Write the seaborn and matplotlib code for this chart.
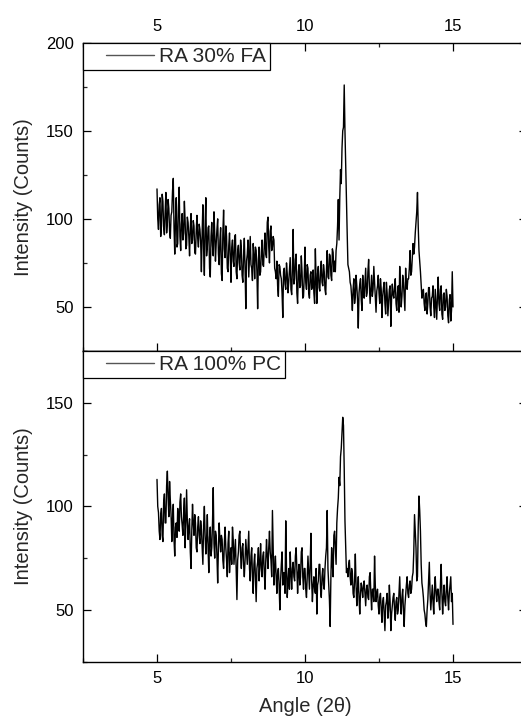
import numpy as np
import pandas as pd
import matplotlib
matplotlib.use("Agg")
import matplotlib.pyplot as plt
import seaborn as sns
from matplotlib.ticker import MultipleLocator
from matplotlib.legend_handler import HandlerLine2D

# ---------------- data (step 0.025 deg from 5 deg) ----------------
series_names = ["RA 30% FA", "RA 100% PC"]

fa30 = [
    117, 100, 94, 108, 112, 90, 96, 114, 110, 95, 91, 104, 115, 92, 98, 111, 106, 93, 89, 102,      # 5.00
    104, 116, 123, 95, 80, 99, 112, 84, 86, 107, 118, 90, 82, 97, 103, 88, 92, 110, 99, 83,         # 5.50
    85, 101, 98, 90, 79, 95, 103, 86, 88, 99, 96, 81, 80, 93, 102, 89, 84, 97, 94, 87,              # 6.00
    70, 92, 108, 83, 68, 96, 112, 79, 84, 95, 96, 72, 67, 90, 98, 85, 79, 104, 92, 76,              # 6.50
    86, 94, 100, 80, 74, 88, 95, 69, 65, 92, 105, 83, 78, 96, 90, 72, 70, 85, 92, 79,               # 7.00
    64, 84, 88, 76, 73, 90, 91, 70, 66, 82, 85, 75, 71, 88, 83, 68, 64, 79, 89, 72,                 # 7.50
    49, 76, 80, 88, 67, 78, 90, 74, 72, 65, 86, 79, 66, 84, 82, 70, 49, 77, 84, 68,                 # 8.00
    70, 81, 88, 74, 73, 85, 92, 80, 78, 98, 101, 84, 75, 93, 96, 82, 84, 90, 88, 72,                # 8.50
    70, 66, 76, 62, 56, 74, 73, 68, 66, 58, 44, 70, 72, 63, 60, 75, 69, 58, 64, 71,                 # 9.00
    78, 60, 57, 72, 94, 63, 66, 77, 80, 58, 52, 70, 74, 61, 62, 79, 70, 55, 56, 68,                 # 9.50
    84, 64, 60, 74, 72, 58, 55, 68, 70, 60, 62, 71, 58, 52, 83, 66, 52, 69, 73, 61,                 # 10.00
    59, 70, 76, 64, 62, 74, 70, 60, 57, 71, 82, 67, 66, 80, 79, 68, 65, 83, 81, 70,                 # 10.50
    76, 70, 82, 86, 96, 111, 88, 112, 128, 120, 140, 150, 152, 176, 150, 130, 113, 92, 74, 72,      # 11.00
    70, 64, 62, 56, 48, 60, 66, 52, 56, 68, 62, 54, 38, 58, 63, 66, 54, 48, 68, 60,                 # 11.50
    55, 64, 72, 56, 58, 70, 77, 62, 52, 60, 68, 56, 60, 73, 64, 55, 47, 59, 62, 68,                 # 12.00
    58, 52, 66, 60, 44, 56, 61, 64, 52, 46, 64, 58, 45, 53, 60, 62, 39, 55, 63, 57,                 # 12.50
    55, 61, 66, 52, 48, 58, 62, 47, 73, 60, 50, 56, 68, 64, 56, 48, 72, 62, 60, 66,                 # 13.00
    66, 72, 82, 68, 70, 78, 86, 80, 84, 92, 98, 104, 115, 96, 82, 76, 70, 62, 55, 58,               # 13.50
    60, 52, 48, 57, 58, 46, 52, 61, 61, 50, 45, 55, 56, 62, 50, 44, 60, 52, 43, 56,                 # 14.00
    67, 52, 48, 60, 62, 46, 43, 57, 58, 48, 50, 60, 56, 45, 41, 54, 57, 42, 48, 70,                 # 14.50
    50,                                                                                             # 15.00
]

pc100 = [
    113, 100, 97, 88, 84, 96, 99, 86, 83, 102, 106, 92, 92, 110, 117, 104, 95, 112, 103, 96,        # 5.00
    83, 94, 101, 84, 76, 90, 92, 85, 99, 94, 88, 102, 106, 95, 91, 86, 97, 104, 80, 92,             # 5.50
    108, 93, 84, 90, 94, 78, 70, 88, 101, 92, 86, 96, 92, 80, 78, 90, 95, 86, 82, 93,               # 6.00
    89, 80, 72, 91, 100, 86, 77, 84, 96, 80, 68, 85, 90, 76, 80, 92, 109, 82, 75, 88,               # 6.50
    86, 76, 63, 80, 92, 84, 78, 86, 84, 74, 70, 82, 90, 80, 74, 66, 82, 88, 68, 76,                 # 7.00
    80, 72, 90, 84, 72, 78, 84, 70, 55, 74, 78, 86, 88, 76, 70, 80, 82, 72, 66, 74,                 # 7.50
    84, 78, 72, 80, 88, 70, 64, 76, 80, 66, 58, 72, 77, 66, 54, 70, 73, 80, 64, 72,                 # 8.00
    82, 70, 66, 76, 78, 68, 60, 74, 84, 76, 70, 80, 88, 78, 74, 66, 98, 80, 62, 70,                 # 8.50
    76, 66, 58, 68, 70, 62, 50, 64, 72, 78, 62, 68, 68, 58, 93, 70, 56, 64, 70, 60,                 # 9.00
    78, 68, 60, 70, 73, 66, 64, 76, 80, 70, 58, 68, 72, 62, 66, 78, 80, 66, 60, 70,                 # 9.50
    70, 60, 56, 66, 76, 68, 60, 72, 87, 64, 54, 62, 66, 60, 58, 70, 48, 62, 64, 72,                 # 10.00
    72, 60, 56, 66, 70, 62, 60, 70, 76, 80, 98, 70, 62, 55, 42, 66, 80, 72, 66, 86,                 # 10.50
    88, 80, 72, 92, 99, 104, 114, 110, 124, 128, 136, 143, 139, 118, 93, 80, 68, 70, 66, 72,        # 11.00
    74, 66, 62, 70, 68, 58, 56, 64, 77, 62, 52, 60, 66, 56, 48, 58, 63, 60, 56, 62,                 # 11.50
    64, 58, 52, 60, 62, 56, 55, 66, 68, 58, 50, 60, 60, 54, 76, 62, 54, 58, 60, 52,                 # 12.00
    48, 56, 58, 50, 44, 54, 56, 48, 40, 52, 54, 58, 46, 50, 62, 54, 40, 48, 52, 56,                 # 12.50
    58, 50, 45, 54, 56, 48, 50, 58, 66, 54, 48, 56, 60, 50, 42, 52, 57, 62, 66, 58,                 # 13.00
    56, 62, 64, 58, 60, 66, 68, 78, 96, 88, 80, 64, 66, 90, 105, 98, 88, 72, 63, 60,                # 13.50
    56, 50, 48, 44, 42, 50, 55, 64, 73, 58, 50, 56, 62, 54, 48, 60, 66, 58, 54, 60,                 # 14.00
    60, 54, 50, 62, 72, 58, 48, 56, 62, 54, 52, 60, 66, 56, 50, 58, 62, 66, 54, 58,                 # 14.50
    43,                                                                                             # 15.00
]

step = 0.025
angle_fa = np.round(np.arange(len(fa30)) * step + 5.0, 3)    # 2-theta scan grid
angle_pc = np.round(np.arange(len(pc100)) * step + 5.0, 3)

x_ticks = [5, 10, 15]
y_ticks_top = [50, 100, 150, 200]
y_ticks_bottom = [50, 100, 150]

x_label = "Angle (2\u03b8)"
y_label = "Intensity (Counts)"

# ---------------- style ----------------
sns.set_style("ticks")
plt.rcParams["font.family"] = ["Liberation Sans", "DejaVu Sans"]
plt.rcParams["axes.linewidth"] = 1.0

fig = plt.figure(figsize=(5.21, 7.19), dpi=100)
W, H = 521.0, 719.0
left_px, right_px = 83.0, 527.0
ax1 = fig.add_axes([left_px / W, 1 - 351.0 / H, (right_px - left_px) / W, (351.0 - 42.7) / H])
ax2 = fig.add_axes([left_px / W, 1 - 661.7 / H, (right_px - left_px) / W, (661.7 - 351.0) / H])

df1 = pd.DataFrame({"angle": angle_fa, "intensity": fa30})
df2 = pd.DataFrame({"angle": angle_pc, "intensity": pc100})

sns.lineplot(data=df1, x="angle", y="intensity", ax=ax1, color="black",
             linewidth=1.0, label=series_names[0])
sns.lineplot(data=df2, x="angle", y="intensity", ax=ax2, color="black",
             linewidth=1.0, label=series_names[1])

for ax, ylim, yt in [(ax1, (25, 200), y_ticks_top), (ax2, (25, 175), y_ticks_bottom)]:
    ax.set_xlim(2.5, 17.5)
    ax.set_ylim(*ylim)
    ax.set_xticks(x_ticks)
    ax.xaxis.set_minor_locator(MultipleLocator(2.5))
    ax.set_yticks(yt)
    ax.yaxis.set_minor_locator(MultipleLocator(25))
    for s in ax.spines.values():
        s.set_visible(True)
        s.set_color("black")
        s.set_linewidth(1.0)
    ax.tick_params(axis="both", which="major", direction="in", length=5.8, width=0.9,
                   labelsize=12, pad=6.5, colors="black")
    ax.tick_params(axis="both", which="minor", direction="in", length=3.0, width=0.9)
    ax.tick_params(axis="y", which="both", left=True, right=True, labelleft=True, labelright=False)
    ax.set_ylabel(y_label, fontsize=14.5)
    ax.yaxis.set_label_coords(-0.112, 0.5)
    ax.set_facecolor("white")

ax1.tick_params(axis="x", which="both", top=True, bottom=True, labeltop=True, labelbottom=False)
ax1.set_xlabel("")
ax2.tick_params(axis="x", which="both", top=False, bottom=True, labeltop=False, labelbottom=True)
ax2.set_xlabel(x_label, fontsize=14.5)
ax2.xaxis.set_label_coords(0.5, -0.115)

for ax in (ax1, ax2):
    leg = ax.legend(loc="upper left", bbox_to_anchor=(0, 1), borderaxespad=0,
                    fontsize=15, frameon=True, fancybox=False, framealpha=1,
                    edgecolor="black", handlelength=3.2, handletextpad=0.25,
                    borderpad=0.2, handler_map={plt.Line2D: HandlerLine2D(xpad=0.9)})
    leg.get_frame().set_linewidth(0.9)
    for ln in leg.get_lines():
        ln.set_color("#555555")
        ln.set_linewidth(1.0)

fig.savefig("out.png", dpi=100, facecolor="white")
